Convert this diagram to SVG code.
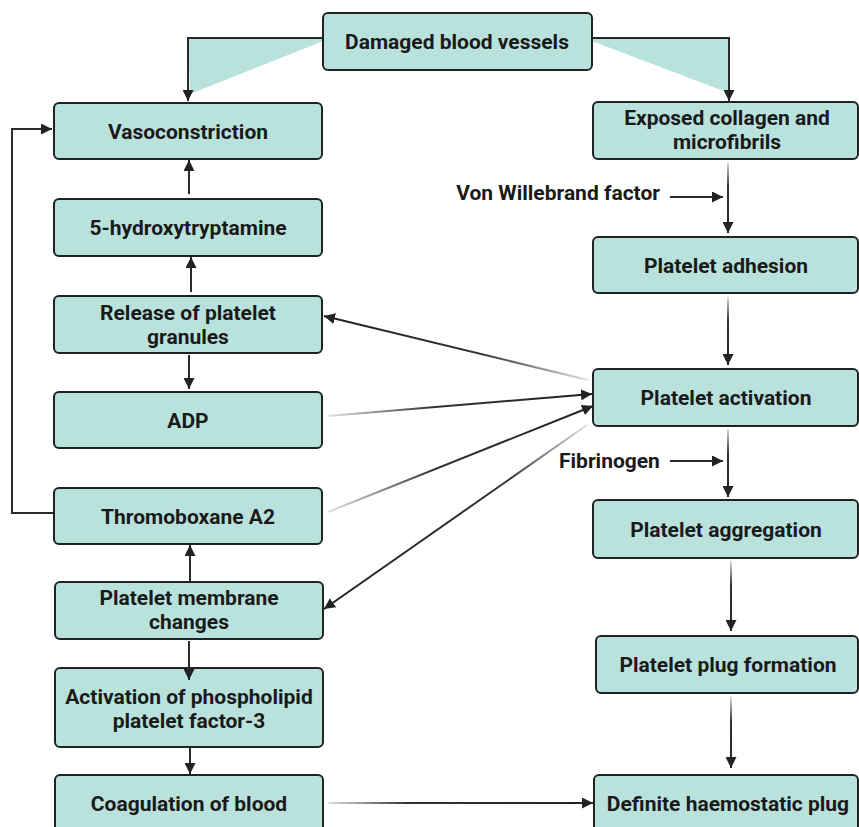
<svg xmlns="http://www.w3.org/2000/svg" width="859" height="827" viewBox="0 0 859 827">
<style>
.box{fill:#b9e2dd;stroke:#222;stroke-width:2}
.t{font-family:Roboto,"Liberation Sans",sans-serif;font-weight:bold;font-size:21px;fill:#1a1a1a;text-anchor:middle}
.lbl{font-family:Roboto,"Liberation Sans",sans-serif;font-weight:bold;font-size:21px;fill:#1a1a1a}
.ln{fill:none;stroke:#2a2a2a;stroke-width:2}
.wedge{fill:#b9e2dd;stroke:none}
</style>
<defs>
<marker id="ah" viewBox="0 0 10 10" refX="10" refY="5" markerWidth="11" markerHeight="11" markerUnits="userSpaceOnUse" orient="auto">
<path d="M0,0 L10,5 L0,10 z" fill="#222"/>
</marker>
<linearGradient id="gRel" gradientUnits="userSpaceOnUse" x1="588" y1="380" x2="325" y2="316"><stop offset="0" stop-color="#e2e2e2"/><stop offset="0.4" stop-color="#333"/><stop offset="1" stop-color="#222"/></linearGradient>
<linearGradient id="gADP" gradientUnits="userSpaceOnUse" x1="328" y1="416" x2="590" y2="394"><stop offset="0" stop-color="#e2e2e2"/><stop offset="0.4" stop-color="#333"/><stop offset="1" stop-color="#222"/></linearGradient>
<linearGradient id="gTx" gradientUnits="userSpaceOnUse" x1="328" y1="512" x2="592" y2="406"><stop offset="0" stop-color="#e2e2e2"/><stop offset="0.4" stop-color="#333"/><stop offset="1" stop-color="#222"/></linearGradient>
<linearGradient id="gMem" gradientUnits="userSpaceOnUse" x1="587" y1="425" x2="325" y2="609"><stop offset="0" stop-color="#e2e2e2"/><stop offset="0.3" stop-color="#333"/><stop offset="1" stop-color="#222"/></linearGradient>
<linearGradient id="gCoag" gradientUnits="userSpaceOnUse" x1="328" y1="803" x2="592" y2="803"><stop offset="0" stop-color="#e2e2e2"/><stop offset="0.3" stop-color="#333"/><stop offset="1" stop-color="#222"/></linearGradient>
<linearGradient id="gV1" gradientUnits="userSpaceOnUse" x1="0" y1="162" x2="0" y2="232"><stop offset="0" stop-color="#ddd"/><stop offset="0.35" stop-color="#333"/><stop offset="1" stop-color="#222"/></linearGradient>
<linearGradient id="gV2" gradientUnits="userSpaceOnUse" x1="0" y1="297" x2="0" y2="365"><stop offset="0" stop-color="#ddd"/><stop offset="0.35" stop-color="#333"/><stop offset="1" stop-color="#222"/></linearGradient>
<linearGradient id="gV3" gradientUnits="userSpaceOnUse" x1="0" y1="429" x2="0" y2="497"><stop offset="0" stop-color="#ddd"/><stop offset="0.35" stop-color="#333"/><stop offset="1" stop-color="#222"/></linearGradient>
<linearGradient id="gV4" gradientUnits="userSpaceOnUse" x1="0" y1="561" x2="0" y2="631"><stop offset="0" stop-color="#ddd"/><stop offset="0.35" stop-color="#333"/><stop offset="1" stop-color="#222"/></linearGradient>
<linearGradient id="gV5" gradientUnits="userSpaceOnUse" x1="0" y1="697" x2="0" y2="768"><stop offset="0" stop-color="#ddd"/><stop offset="0.35" stop-color="#333"/><stop offset="1" stop-color="#222"/></linearGradient>
</defs>

<g id="damaged"><rect class="box" x="323" y="13" width="269" height="57" rx="5"/><text class="t" x="457" y="48.5">Damaged blood vessels</text></g>
<g id="vasoconstriction"><rect class="box" x="54" y="103" width="268" height="56" rx="5"/><text class="t" x="188" y="138.5">Vasoconstriction</text></g>
<g id="hydroxytryptamine"><rect class="box" x="54" y="199" width="268" height="57" rx="5"/><text class="t" x="188" y="235">5-hydroxytryptamine</text></g>
<g id="release"><rect class="box" x="54" y="296" width="268" height="57" rx="5"/><text class="t" x="188" y="320">Release of platelet</text><text class="t" x="188" y="344">granules</text></g>
<g id="adp"><rect class="box" x="54" y="392" width="268" height="56" rx="5"/><text class="t" x="188" y="427.5">ADP</text></g>
<g id="thromboxane"><rect class="box" x="54" y="488" width="268" height="56" rx="5"/><text class="t" x="188" y="523.5">Thromoboxane A2</text></g>
<g id="membrane"><rect class="box" x="55" y="582" width="268" height="57" rx="5"/><text class="t" x="189" y="605">Platelet membrane</text><text class="t" x="189" y="629">changes</text></g>
<g id="activation-pf3"><rect class="box" x="55" y="668" width="268" height="79" rx="5"/><text class="t" x="189" y="704">Activation of phospholipid</text><text class="t" x="189" y="728">platelet factor-3</text></g>
<g id="coagulation"><rect class="box" x="55" y="775" width="268" height="60" rx="5"/><text class="t" x="189" y="810.5">Coagulation of blood</text></g>

<g id="collagen"><rect class="box" x="593" y="102" width="265" height="57" rx="5"/><text class="t" x="727" y="125">Exposed collagen and</text><text class="t" x="727" y="149">microfibrils</text></g>
<g id="vwf-label"><text class="lbl" x="660" y="200" text-anchor="end">Von Willebrand factor</text></g>
<g id="adhesion"><rect class="box" x="593" y="237" width="265" height="56" rx="5"/><text class="t" x="726" y="272.5">Platelet adhesion</text></g>
<g id="activation"><rect class="box" x="593" y="369" width="265" height="57" rx="5"/><text class="t" x="726" y="405">Platelet activation</text></g>
<g id="fibrinogen-label"><text class="lbl" x="559" y="468">Fibrinogen</text></g>
<g id="aggregation"><rect class="box" x="593" y="500" width="265" height="58" rx="5"/><text class="t" x="726" y="536.5">Platelet aggregation</text></g>
<g id="plug"><rect class="box" x="596" y="636" width="262" height="57" rx="5"/><text class="t" x="728" y="672">Platelet plug formation</text></g>
<g id="definite"><rect class="box" x="594" y="775" width="264" height="60" rx="5"/><text class="t" x="728" y="810.5">Definite haemostatic plug</text></g>

<g id="connectors">
<polygon class="wedge" points="188,38 322,38 322,41.5 190,94"/>
<polygon class="wedge" points="593,38 729,38 729,93 593,41.5"/>
<polyline class="ln" points="322,38 188,38 188,101" marker-end="url(#ah)"/>
<polyline class="ln" points="593,38 729,38 729,101" marker-end="url(#ah)"/>
<polyline class="ln" points="53,513 12,513 12,129 52,129" marker-end="url(#ah)"/>
<line class="ln" x1="189" y1="194" x2="189" y2="160" marker-end="url(#ah)"/>
<line class="ln" x1="191" y1="292" x2="191" y2="257" marker-end="url(#ah)"/>
<line class="ln" x1="189" y1="355" x2="189" y2="389" marker-end="url(#ah)"/>
<line class="ln" x1="190" y1="581" x2="190" y2="545" marker-end="url(#ah)"/>
<line class="ln" x1="189" y1="641" x2="189" y2="680" marker-end="url(#ah)"/>
<line class="ln" x1="190" y1="748" x2="190" y2="774" marker-end="url(#ah)"/>
<line class="ln" x1="728" y1="162" x2="728" y2="233" style="stroke:url(#gV1)" marker-end="url(#ah)"/>
<line class="ln" x1="670" y1="197" x2="723" y2="197" marker-end="url(#ah)"/>
<line class="ln" x1="728" y1="297" x2="728" y2="365" style="stroke:url(#gV2)" marker-end="url(#ah)"/>
<line class="ln" x1="728" y1="429" x2="728" y2="497" style="stroke:url(#gV3)" marker-end="url(#ah)"/>
<line class="ln" x1="670" y1="461" x2="723" y2="461" marker-end="url(#ah)"/>
<line class="ln" x1="731" y1="561" x2="731" y2="631" style="stroke:url(#gV4)" marker-end="url(#ah)"/>
<line class="ln" x1="731" y1="697" x2="731" y2="768" style="stroke:url(#gV5)" marker-end="url(#ah)"/>
<line class="ln" x1="588" y1="380" x2="324" y2="316" style="stroke:url(#gRel)" marker-end="url(#ah)"/>
<line class="ln" x1="328" y1="416" x2="592" y2="394" style="stroke:url(#gADP)" marker-end="url(#ah)"/>
<line class="ln" x1="328" y1="512" x2="593" y2="406" style="stroke:url(#gTx)" marker-end="url(#ah)"/>
<line class="ln" x1="587" y1="425" x2="324" y2="609" style="stroke:url(#gMem)" marker-end="url(#ah)"/>
<line class="ln" x1="328" y1="803" x2="593" y2="803" style="stroke:url(#gCoag)" marker-end="url(#ah)"/>
</g>
</svg>
